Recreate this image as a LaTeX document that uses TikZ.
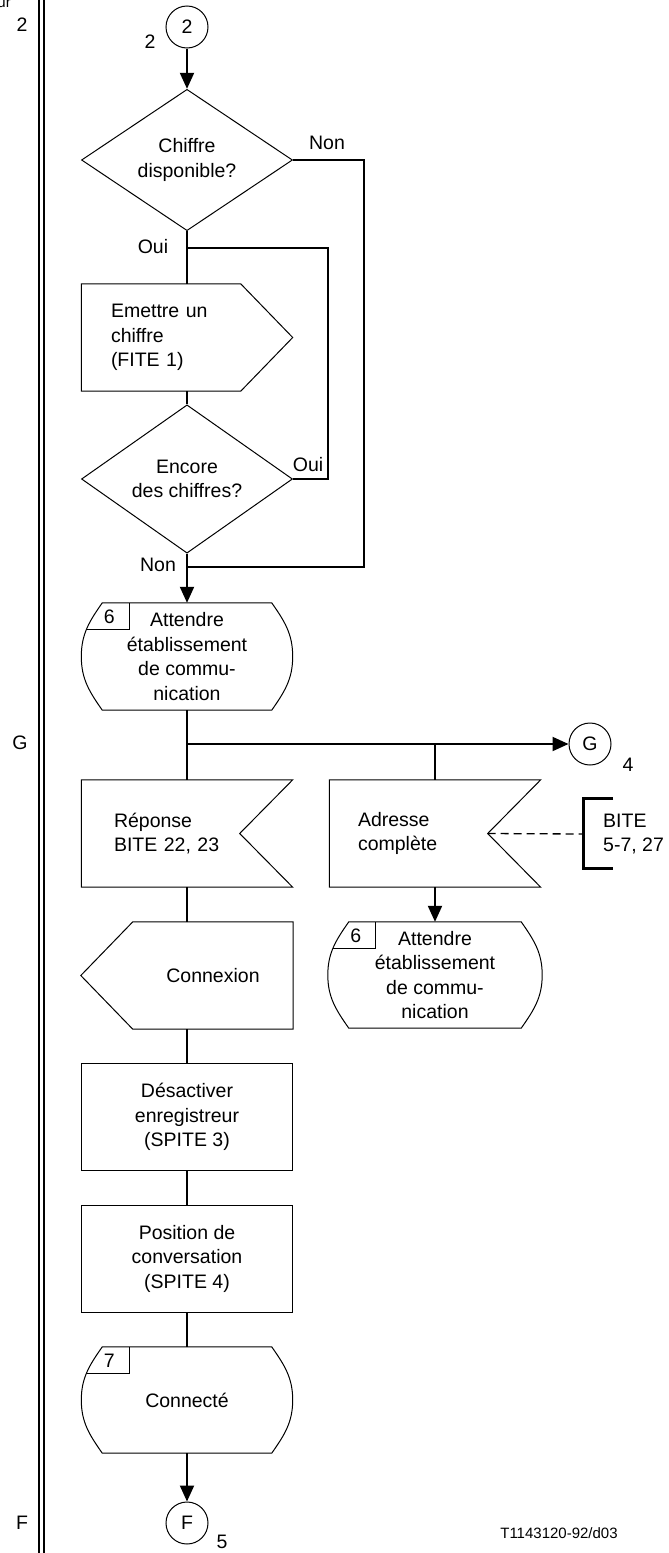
\documentclass[tikz,border=0pt]{standalone}
\usepackage{fontspec}
\setmainfont{Liberation Sans}
\usetikzlibrary{shapes.geometric,arrows.meta,calc}

\begin{document}
\begin{tikzpicture}
[x=1pt,y=-1pt,
  every node/.style={font=\fontsize{19.5}{24.5}\selectfont,inner sep=0pt},%
  connector/.style={shape=circle,draw,line width=1pt,minimum size=42pt},%
  decision/.style={shape=diamond,draw,line width=1pt,minimum width=211pt,minimum height=124pt,align=center},%
  shapebox/.style={shape=rectangle,minimum width=211pt,minimum height=107pt,align=center},%
  taskbox/.style={shapebox,draw,line width=1pt},%
  outline/.style={line width=1pt},%
  flowline/.style={line width=2pt},%
  flowarrow/.style={flowline,-{Triangle[width=14pt,length=16pt]}},%
  bracketline/.style={line width=3pt}]
\useasboundingbox (0,0) rectangle (669,1553);
%% margin column
\draw[line width=2pt] (38.5,0) -- (38.5,1553);
\draw[line width=2pt] (43.5,0) -- (43.5,1553);
\node (cuttext) at (11,7) [anchor=base east,font=\fontsize{15}{18}\selectfont] {ur};
\node (mark2) at (22,25) {2};
\node (markG) at (20,743) {G};
\node (markF) at (22,1523) {F};
%% nodes
\node (start) at (187,27) [connector] {2};
\node (startno) at (150,42) {2};
\node (q1) at (187,160) [decision] {Chiffre\\disponible?};
\node (emit) at (187,337.5) [shapebox,text width=152pt,align=left] {Emettre un\\chiffre\\(FITE 1)};
\node (q2) at (187,479) [decision] {Encore\\des chiffres?};
\node (wait1) at (187,656.5) [shapebox] {Attendre\\établissement\\de commu-\\nication};
\node (gout) at (590,744) [connector] {G};
\node (goutno) at (628,765) {4};
\node (ans) at (187,833.5) [shapebox,text width=146pt,align=left] {Réponse\\BITE 22, 23};
\node (addr) at (435,833.5) [shapebox,text width=154pt,align=left] {Adresse\\complète};
\node (bite) at (603,834) [anchor=west,align=left] {BITE\\5-7, 27};
\node (wait2) at (435,975) [shapebox,minimum width=214pt,minimum height=106pt] {Attendre\\établissement\\de commu-\\nication};
\node (conn) at (213,975.5) [shapebox,minimum width=160pt] {Connexion};
\node (deact) at (187,1117) [taskbox] {Désactiver\\enregistreur\\(SPITE 3)};
\node (talk) at (187,1258.5) [taskbox] {Position de\\conversation\\(SPITE 4)};
\node (done) at (187,1400) [shapebox,minimum height=106pt] {Connecté};
\node (fout) at (187,1523) [connector] {F};
\node (foutno) at (222,1542) {5};
\node (drawno) at (559,1533) [font=\fontsize{15}{18}\selectfont] {T1143120-92/d03};
%% branch labels
\node (non1) at (327,143) {Non};
\node (oui1) at (153,247) {Oui};
\node (oui2) at (308,465) {Oui};
\node (non2) at (158,565) {Non};
%% outlines of the special shapes
\draw[outline] (emit.north west) -- ($(emit.north east)+(-52,0)$) -- (emit.east)
  -- ($(emit.south east)+(-52,0)$) -- (emit.south west) -- cycle;
\foreach \sig in {ans,addr} {
  \draw[outline] (\sig.north west) -- (\sig.north east) -- ($(\sig.east)+(-53,0)$)
    -- (\sig.south east) -- (\sig.south west) -- cycle;
}
\draw[outline] (conn.north west) -- (conn.north east) -- (conn.south east)
  -- (conn.south west) -- ($(conn.west)+(-52,0)$) -- cycle;
\foreach \st/\num in {wait1/6, wait2/6, done/7} {
  \draw[outline] ($(\st.north west)+(21,0)$) -- ($(\st.north east)+(-21,0)$)
    to[out=-55,in=90] (\st.east) to[out=-90,in=55] ($(\st.south east)+(-21,0)$)
    -- ($(\st.south west)+(21,0)$) to[out=125,in=-90] (\st.west)
    to[out=90,in=-125] ($(\st.north west)+(21,0)$) -- cycle;
  \draw[outline] ($(\st.north west)+(5,27)$) -| ($(\st.north west)+(48,0)$);
  \node (\st-num) at ($(\st.north west)+(28,14)$) {\num};
}
%% edges or lines
\coordinate (ouijoin) at (187,248);
\coordinate (nonjoin) at (187,567);
\coordinate (gsplit) at (187,744);
\draw[flowarrow] (start) -- (q1);
\draw[flowline] (q1) -- (emit);
\draw[flowline] (emit) -- (q2);
\draw[flowline] (q2.east) -- ++(35,0) |- (ouijoin);
\draw[flowline] (q1.east) -- ++(71,0) |- (nonjoin);
\draw[flowline] (q2) -- (nonjoin);
\draw[flowarrow] (nonjoin) -- (wait1);
\draw[flowline] (wait1) -- (ans);
\draw[flowarrow] (gsplit) -- (gout);
\draw[flowline] (addr.north) -- (addr.north |- gsplit);
\draw[flowarrow] (addr) -- (wait2);
\draw[line width=1.3pt,dash pattern=on 8pt off 5pt] ($(addr.east)+(-53,0)$) -- ($(bite.west)+(-20,0)$);
\draw[bracketline] ($(bite.west)+(10,-36)$) -- ($(bite.west)+(-20,-36)$)
  -- ($(bite.west)+(-20,34)$) -- ($(bite.west)+(10,34)$);
\draw[flowline] (ans) -- (ans |- conn.north);
\draw[flowline] (ans |- conn.south) -- (deact);
\draw[flowline] (deact) -- (talk);
\draw[flowline] (talk) -- (done);
\draw[flowarrow] (done) -- (fout);
\end{tikzpicture}
\end{document}
